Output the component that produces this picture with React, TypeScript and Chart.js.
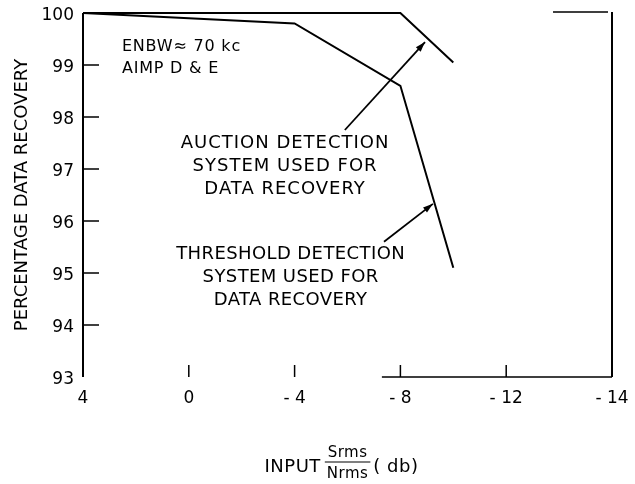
import React, { useEffect, useRef } from "react";
import { Chart, registerables } from "chart.js";

Chart.register(...registerables);

// ---- data ----
const X_TICK_VALUES = [4, 0, -4, -8, -12, -16];
const X_TICK_LABELS = ["4", "0", "- 4", "- 8", "- 12", "- 14"];
const Y_TICK_VALUES = [93, 94, 95, 96, 97, 98, 99, 100];

const THRESHOLD_X = [4, -4, -8, -10];
const THRESHOLD_Y = [100, 99.8, 98.6, 95.1];
const AUCTION_X = [4, -8, -10];
const AUCTION_Y = [100, 100, 99.05];

const NOTE_ENBW = ["ENBW\u2248 70 kc", "AIMP D & E"];
const NOTE_AUCTION = ["AUCTION DETECTION", "SYSTEM USED FOR", "DATA RECOVERY"];
const NOTE_THRESHOLD = ["THRESHOLD DETECTION", "SYSTEM USED FOR", "DATA RECOVERY"];
const Y_TITLE = "PERCENTAGE DATA RECOVERY";
const X_TITLE_MAIN = "INPUT";
const X_TITLE_NUM = "Srms";
const X_TITLE_DEN = "Nrms";
const X_TITLE_UNIT = "( db)";

// ---- annotation anchors (data coordinates) ----
const ENBW_AT = { x: 2.53, y: 99.34 };
const AUCTION_AT = { x: -3.64, y: 97.49 };
const THRESHOLD_AT = { x: -3.85, y: 95.35 };
const AUCTION_ARROW = { x1: -5.9, y1: 97.75, x2: -8.93, y2: 99.44 };
const THRESHOLD_ARROW = { x1: -7.38, y1: 95.6, x2: -9.23, y2: 96.33 };
const BOTTOM_RULE = [-7.3, -16];
const TOP_RULE = [-13.77, -15.85];

const FONT = "'DejaVu Sans', sans-serif";

function arrow(ctx: CanvasRenderingContext2D, x1: number, y1: number, x2: number, y2: number) {
  ctx.beginPath();
  ctx.moveTo(x1, y1);
  ctx.lineTo(x2, y2);
  ctx.stroke();
  const a = Math.atan2(y2 - y1, x2 - x1);
  const L = 10, W = 3.2;
  ctx.beginPath();
  ctx.moveTo(x2, y2);
  ctx.lineTo(x2 - L * Math.cos(a) + W * Math.sin(a), y2 - L * Math.sin(a) - W * Math.cos(a));
  ctx.lineTo(x2 - L * Math.cos(a) - W * Math.sin(a), y2 - L * Math.sin(a) + W * Math.cos(a));
  ctx.closePath();
  ctx.fill();
}

const overlay = {
  id: "overlay",
  afterDraw(chart: any) {
    const { ctx, chartArea } = chart;
    const xs = chart.scales.x;
    const ys = chart.scales.y;
    const { left, right, top, bottom } = chartArea;
    ctx.save();
    ctx.strokeStyle = "#000";
    ctx.fillStyle = "#000";

    // frame
    ctx.lineWidth = 2;
    ctx.beginPath();
    ctx.moveTo(left, top);
    ctx.lineTo(left, bottom);
    ctx.moveTo(right, top - 1);
    ctx.lineTo(right, bottom);
    ctx.stroke();
    ctx.lineWidth = 1.5;
    ctx.beginPath();
    ctx.moveTo(xs.getPixelForValue(BOTTOM_RULE[0]), bottom);
    ctx.lineTo(xs.getPixelForValue(BOTTOM_RULE[1]), bottom);
    ctx.moveTo(xs.getPixelForValue(TOP_RULE[0]), top - 1);
    ctx.lineTo(xs.getPixelForValue(TOP_RULE[1]), top - 1);
    ctx.stroke();

    // inner tick marks
    ctx.lineWidth = 1.5;
    ctx.beginPath();
    Y_TICK_VALUES.forEach((v) => {
      if (v === ys.min || v === ys.max) return;
      const py = ys.getPixelForValue(v);
      ctx.moveTo(left, py);
      ctx.lineTo(left + 16, py);
    });
    X_TICK_VALUES.forEach((v) => {
      if (v === xs.min || v === xs.max) return;
      const px = xs.getPixelForValue(v);
      ctx.moveTo(px, bottom);
      ctx.lineTo(px, bottom - 12);
    });
    ctx.stroke();

    // notes
    ctx.textBaseline = "middle";
    ctx.font = `16px ${FONT}`;
    ctx.textAlign = "left";
    (ctx as any).letterSpacing = "0.8px";
    NOTE_ENBW.forEach((t, i) => {
      ctx.fillText(t, xs.getPixelForValue(ENBW_AT.x), ys.getPixelForValue(ENBW_AT.y) + i * 22);
    });
    ctx.font = `18px ${FONT}`;
    ctx.textAlign = "center";
    (ctx as any).letterSpacing = "1px";
    NOTE_AUCTION.forEach((t, i) => {
      ctx.fillText(t, xs.getPixelForValue(AUCTION_AT.x), ys.getPixelForValue(AUCTION_AT.y) + i * 23);
    });
    (ctx as any).letterSpacing = "0.4px";
    NOTE_THRESHOLD.forEach((t, i) => {
      ctx.fillText(t, xs.getPixelForValue(THRESHOLD_AT.x), ys.getPixelForValue(THRESHOLD_AT.y) + i * 23);
    });
    (ctx as any).letterSpacing = "0px";

    // arrows
    ctx.lineWidth = 1.8;
    [AUCTION_ARROW, THRESHOLD_ARROW].forEach((a) => {
      arrow(
        ctx,
        xs.getPixelForValue(a.x1),
        ys.getPixelForValue(a.y1),
        xs.getPixelForValue(a.x2),
        ys.getPixelForValue(a.y2)
      );
    });

    // x axis title with fraction
    const cy = bottom + 90;
    ctx.textAlign = "left";
    (ctx as any).letterSpacing = "0.5px";
    ctx.font = `18px ${FONT}`;
    const wMain = ctx.measureText(X_TITLE_MAIN).width;
    const wUnit = ctx.measureText(X_TITLE_UNIT).width;
    ctx.font = `15px ${FONT}`;
    const wFrac = Math.max(ctx.measureText(X_TITLE_NUM).width, ctx.measureText(X_TITLE_DEN).width) + 4;
    const total = wMain + 4 + wFrac + 3 + wUnit;
    let x0 = (left + right) / 2 - 6 - total / 2;
    ctx.font = `18px ${FONT}`;
    ctx.fillText(X_TITLE_MAIN, x0, cy);
    x0 += wMain + 4;
    ctx.font = `15px ${FONT}`;
    ctx.textAlign = "center";
    ctx.fillText(X_TITLE_NUM, x0 + wFrac / 2, cy - 14);
    ctx.fillText(X_TITLE_DEN, x0 + wFrac / 2, cy + 7);
    ctx.lineWidth = 1.2;
    ctx.beginPath();
    ctx.moveTo(x0, cy - 5);
    ctx.lineTo(x0 + wFrac, cy - 5);
    ctx.stroke();
    x0 += wFrac + 3;
    ctx.textAlign = "left";
    ctx.font = `18px ${FONT}`;
    ctx.fillText(X_TITLE_UNIT, x0, cy);

    ctx.restore();
  },
};

export default function App() {
  const ref = useRef<HTMLCanvasElement | null>(null);
  useEffect(() => {
    if (!ref.current) return;
    const toPts = (xs: number[], ys: number[]) => xs.map((x, i) => ({ x, y: ys[i] }));
    const chart = new Chart(ref.current, {
      type: "line",
      data: {
        datasets: [
          {
            label: "Threshold detection",
            data: toPts(THRESHOLD_X, THRESHOLD_Y),
            borderColor: "#000",
            borderWidth: 2,
            pointRadius: 0,
            tension: 0,
            clip: 4,
          },
          {
            label: "Auction detection",
            data: toPts(AUCTION_X, AUCTION_Y),
            borderColor: "#000",
            borderWidth: 2,
            pointRadius: 0,
            tension: 0,
            clip: 4,
          },
        ],
      },
      options: {
        animation: false,
        responsive: false,
        events: [],
        layout: { padding: { left: 0, top: 13, right: 23, bottom: 0 } },
        plugins: { legend: { display: false }, tooltip: { enabled: false } },
        scales: {
          x: {
            type: "linear",
            reverse: true,
            min: -16,
            max: 4,
            grid: { display: false, drawTicks: false },
            border: { display: false },
            afterBuildTicks: (s: any) => {
              s.ticks = X_TICK_VALUES.map((v) => ({ value: v }));
            },
            afterFit: (s: any) => {
              s.height = 107;
              s.paddingLeft = 0;
              s.paddingRight = 0;
            },
            ticks: {
              autoSkip: false,
              maxRotation: 0,
              padding: 11,
              color: "#000",
              font: { family: FONT, size: 17 },
              callback: (v: any) => {
                const i = X_TICK_VALUES.indexOf(Number(v));
                return i >= 0 ? X_TICK_LABELS[i] : "";
              },
            },
          },
          y: {
            type: "linear",
            min: 93,
            max: 100,
            grid: { display: false, drawTicks: false },
            border: { display: false },
            afterBuildTicks: (s: any) => {
              s.ticks = Y_TICK_VALUES.map((v) => ({ value: v }));
            },
            afterFit: (s: any) => {
              s.width = 83;
              s.paddingTop = 0;
              s.paddingBottom = 0;
            },
            ticks: {
              padding: 9,
              labelOffset: 3,
              color: "#000",
              font: { family: FONT, size: 17 },
            },
            title: {
              display: true,
              text: Y_TITLE,
              color: "#000",
              font: { family: FONT, size: 18 },
              padding: { top: 12, bottom: 0 },
            },
          },
        },
      },
      plugins: [overlay],
    });
    return () => chart.destroy();
  }, []);
  return (
    <div style={{ position: "absolute", left: 0, top: 0, width: 635, height: 484, background: "#fff" }}>
      <canvas ref={ref} width={635} height={484} style={{ display: "block" }} />
    </div>
  );
}
